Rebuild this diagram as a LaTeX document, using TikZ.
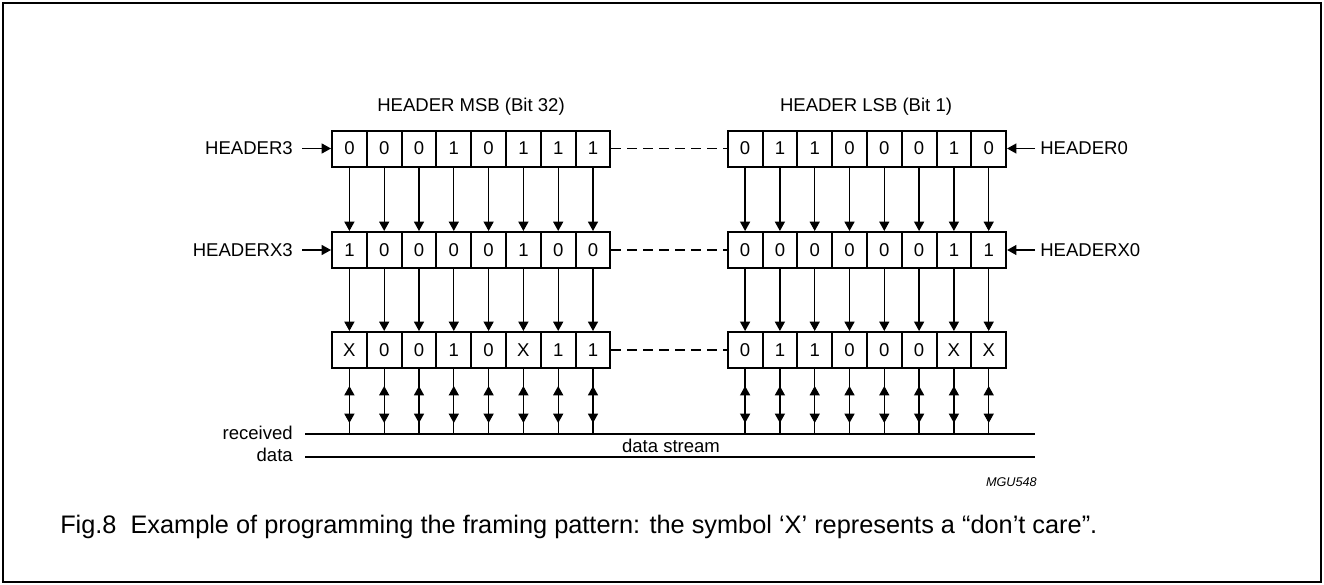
\documentclass[tikz,border=0pt]{standalone}
\usepackage{fontspec}
\setmainfont{Liberation Sans}
\usetikzlibrary{arrows.meta,decorations.markings}
\begin{document}
\begin{tikzpicture}[x=0.75pt,y=-0.75pt,
  cell/.style={draw,line width=1.5pt,minimum width=26.1pt,minimum height=27pt,inner sep=0pt,font=\fontsize{13.9}{16}\selectfont},
  lbl/.style={font=\fontsize{13.9}{16}\selectfont,inner sep=0pt},
  conn/.style={line width=1pt},
  tipd/.style={-{Triangle[width=7.5pt,length=7pt]}},
  bidir/.style={postaction={decorate},decoration={markings,
     mark=at position 12.75pt with {\arrowreversed{Triangle[width=7.5pt,length=7pt]}},
     mark=at position 40.5pt with {\arrow{Triangle[width=7.5pt,length=7pt]}}}},
  dashline/.style={line width=1pt,dash pattern=on 7.5pt off 4.5pt}
]
\useasboundingbox (0,0) rectangle (1324,585);
\draw[line width=1.5pt] (3,3) rectangle (1321,582);

% rows of cells
\foreach \v [count=\i] in {0,0,0,1,0,1,1,1}
  \node[cell] (L1-\i) at ({349.4+34.8*(\i-1)},148.5) {\v};
\foreach \v [count=\i] in {0,1,1,0,0,0,1,0}
  \node[cell] (R1-\i) at ({745.1+34.8*(\i-1)},148.5) {\v};
\foreach \v [count=\i] in {1,0,0,0,0,1,0,0}
  \node[cell] (L2-\i) at ({349.4+34.8*(\i-1)},250) {\v};
\foreach \v [count=\i] in {0,0,0,0,0,0,1,1}
  \node[cell] (R2-\i) at ({745.1+34.8*(\i-1)},250) {\v};
\foreach \v [count=\i] in {X,0,0,1,0,X,1,1}
  \node[cell] (L3-\i) at ({349.4+34.8*(\i-1)},350) {\v};
\foreach \v [count=\i] in {0,1,1,0,0,0,X,X}
  \node[cell] (R3-\i) at ({745.1+34.8*(\i-1)},350) {\v};

% headings
\node[lbl] (msb) at (471,107) {HEADER MSB (Bit 32)};
\node[lbl] (lsb) at (866,107) {HEADER LSB (Bit 1)};

% side labels
\node[lbl,anchor=east] (h3) at (293,148.5) {HEADER3};
\node[lbl,anchor=east] (hx3) at (293,250) {HEADERX3};
\node[lbl,anchor=west] (h0) at (1040,148.5) {HEADER0};
\node[lbl,anchor=west] (hx0) at (1040,250) {HEADERX0};
\draw[conn,tipd,shorten <=6.75pt] (h3) -- (L1-1);
\draw[conn,tipd,shorten <=6.75pt] (hx3) -- (L2-1);
\draw[conn,tipd,shorten <=3.75pt] (h0) -- (R1-8);
\draw[conn,tipd,shorten <=3.75pt] (hx0) -- (R2-8);

% dashed links
\foreach \r in {1,2,3}
  \draw[dashline] (L\r-8) -- (R\r-1);

% data lines
\coordinate (rcvA) at (305,434);
\coordinate (rcvB) at (1035,434);
\coordinate (datA) at (305,457);
\coordinate (datB) at (1035,457);
\draw[conn] (rcvA) -- (rcvB);
\draw[conn] (datA) -- (datB);
\node[lbl,anchor=east] (rec) at (293,433) {received};
\node[lbl,anchor=east] (dat) at (293,455) {data};
\node[lbl] (ds) at (671,446) {data stream};

% vertical arrows
\foreach \g in {L,R}
  \foreach \i in {1,...,8} {
    \draw[conn,tipd] (\g1-\i) -- (\g2-\i);
    \draw[conn,tipd] (\g2-\i) -- (\g3-\i);
    \coordinate (\g r-\i) at (\g3-\i.south |- rcvA);
    \draw[conn,bidir] (\g3-\i.south) -- (\g r-\i);
  }

\node[font=\fontsize{9.5}{11}\selectfont\itshape,anchor=east,inner sep=0pt] (mgu) at (1037,482) {MGU548};
\node[font=\fontsize{19}{23}\selectfont,anchor=west,inner sep=0pt] (cap) at (60,527)
  {Fig.8\hspace{0.55em}Example of programming the framing pattern: the symbol ‘X’ represents a “don’t care”.};
\end{tikzpicture}
\end{document}
